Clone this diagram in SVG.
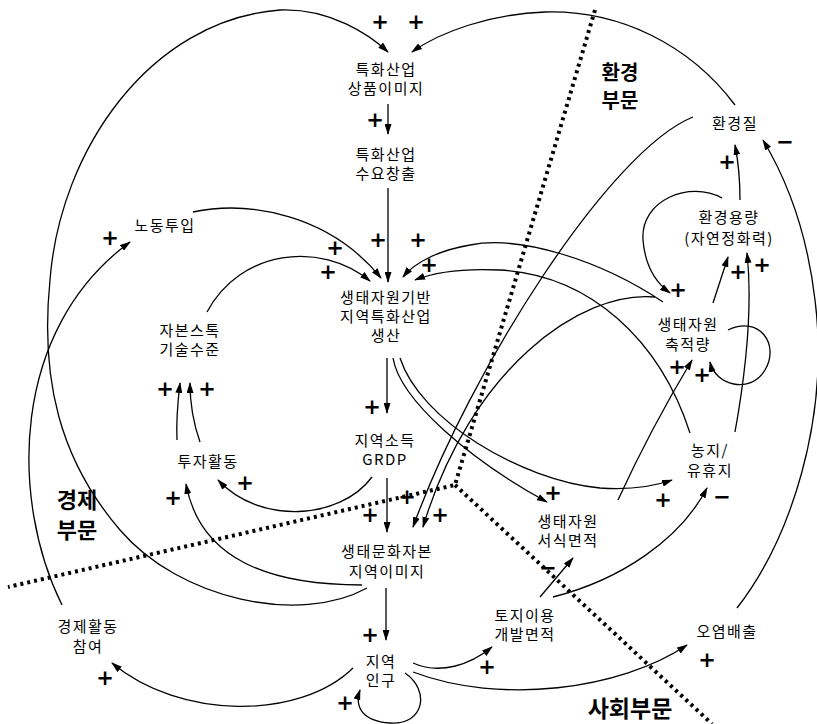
<svg xmlns="http://www.w3.org/2000/svg" width="817" height="724" viewBox="0 0 817 724">
<style>
.n text{font-family:"Noto Sans CJK KR","Noto Sans CJK SC",sans-serif;font-size:15px;text-anchor:middle;letter-spacing:1.5px;fill:#000}
.sec text{font-family:"Noto Sans CJK KR",sans-serif;font-weight:bold;text-anchor:middle;fill:#000}
.c path{fill:none;stroke:#000;stroke-width:1.3;marker-end:url(#ah)}
.s text{font-family:"DejaVu Sans",sans-serif;font-weight:bold;font-size:21px;text-anchor:middle;dominant-baseline:central;fill:#000}
.dot{fill:none;stroke:#000;stroke-width:4;stroke-dasharray:3 4}
</style>
<defs>
<marker id="ah" viewBox="0 0 11 7" refX="10" refY="3.5" markerWidth="11" markerHeight="7" markerUnits="userSpaceOnUse" orient="auto"><path d="M0,0 L11,3.5 L0,7 z" fill="#000"/></marker>
</defs>
<rect width="817" height="724" fill="#fff"/>

<g id="sectors">
<path class="dot" d="M595,10 L455,485 L8,587"/>
<path class="dot" d="M455,485 L712,724"/>
<g class="sec">
<text x="620" y="80" font-size="20">환경</text>
<text x="620" y="108" font-size="20">부문</text>
<text x="77" y="508" font-size="22">경제</text>
<text x="77" y="538" font-size="22">부문</text>
<text x="630" y="717" font-size="23">사회부문</text>
</g>
</g>

<g id="connectors" class="c">
<path d="M367,588 C300,625 180,600 120,530 C60,460 40,380 50,280 C60,150 150,20 280,10 C330,8 370,35 388,52"/>
<path d="M735,105 C690,45 620,10 545,12 C490,14 440,32 412,52"/>
<path d="M388,104 L388,134"/>
<path d="M388,188 L388,282"/>
<path d="M193,212 C250,200 330,215 381,278"/>
<path d="M207,312 C240,250 320,240 370,281"/>
<path d="M663,302 C600,260 520,235 470,245 C440,250 415,262 403,277"/>
<path d="M690,433 C660,340 590,275 500,270 C460,268 435,272 415,280"/>
<path d="M387,358 L387,413"/>
<path d="M393,358 C400,400 470,460 547,502"/>
<path d="M400,358 C420,420 520,480 600,488 C630,490 655,486 672,480"/>
<path d="M372,477 C340,520 260,525 218,480"/>
<path d="M387,478 L387,532"/>
<path d="M693,117 C610,150 470,370 413,527"/>
<path d="M655,297 C580,290 470,370 423,527"/>
<path d="M362,585 C270,585 200,560 186,484"/>
<path d="M177,440 C176,420 178,400 180,383"/>
<path d="M200,442 C194,425 190,405 190,383"/>
<path d="M62,605 C10,500 10,330 130,242"/>
<path d="M386,588 L386,640"/>
<path d="M405,673 C430,690 425,725 390,723 C360,721 355,705 360,690"/>
<path d="M353,668 C300,720 180,720 112,663"/>
<path d="M413,663 C440,675 470,665 492,647"/>
<path d="M413,672 C500,705 620,690 687,645"/>
<path d="M540,597 L573,558"/>
<path d="M553,597 C620,580 680,540 707,488"/>
<path d="M618,500 Q650,430 692,360"/>
<path d="M737,608 C790,540 830,420 815,300 C808,240 790,185 763,140"/>
<path d="M740,200 Q740,170 735,145"/>
<path d="M722,198 C690,180 640,200 643,240 C645,265 655,282 670,293"/>
<path d="M713,303 L728,257"/>
<path d="M735,432 C748,360 752,300 747,253"/>
<path d="M728,330 C760,315 780,345 765,370 C750,395 715,385 710,362"/>
</g>

<g id="signs" class="s">
<text x="380" y="22">+</text><text x="416" y="22">+</text>
<text x="375" y="120">+</text>
<text x="378" y="240">+</text><text x="418" y="240">+</text><text x="429" y="265">+</text>
<text x="335" y="248">+</text><text x="328" y="272">+</text>
<text x="110" y="238">+</text>
<text x="165" y="389">+</text><text x="207" y="389">+</text>
<text x="372" y="407">+</text>
<text x="173" y="498">+</text><text x="245" y="483">+</text>
<text x="370" y="515">+</text><text x="407" y="497">+</text><text x="440" y="515">+</text>
<text x="553" y="493">+</text><text x="663" y="500">+</text>
<text x="370" y="635">+</text><text x="345" y="703">+</text>
<text x="105" y="678">+</text><text x="487" y="667">+</text><text x="707" y="660">+</text>
<text x="727" y="162">+</text><text x="678" y="290">+</text>
<text x="738" y="272">+</text><text x="762" y="265">+</text>
<text x="677" y="367">+</text><text x="702" y="375">+</text>
<text x="785" y="142">−</text><text x="548" y="568">−</text><text x="722" y="497">−</text>
</g>

<g id="n1" class="n"><text x="386" y="75">특화산업</text><text x="386" y="94">상품이미지</text></g>
<g id="n2" class="n"><text x="386" y="160">특화산업</text><text x="386" y="179">수요창출</text></g>
<g id="n3" class="n"><text x="165" y="231">노동투입</text></g>
<g id="n4" class="n"><text x="386" y="303">생태자원기반</text><text x="386" y="322">지역특화산업</text><text x="386" y="341">생산</text></g>
<g id="n5" class="n"><text x="190" y="336">자본스톡</text><text x="190" y="355">기술수준</text></g>
<g id="n6" class="n"><text x="735" y="129">환경질</text></g>
<g id="n7" class="n"><text x="729" y="223">환경용량</text><text x="729" y="244">(자연정화력)</text></g>
<g id="n8" class="n"><text x="688" y="330">생태자원</text><text x="688" y="350">축적량</text></g>
<g id="n9" class="n"><text x="208" y="467">투자활동</text></g>
<g id="n10" class="n"><text x="385" y="446">지역소득</text><text x="385" y="465">GRDP</text></g>
<g id="n11" class="n"><text x="387" y="557">생태문화자본</text><text x="387" y="577">지역이미지</text></g>
<g id="n12" class="n"><text x="381" y="667">지역</text><text x="381" y="686">인구</text></g>
<g id="n13" class="n"><text x="88" y="632">경제활동</text><text x="88" y="652">참여</text></g>
<g id="n14" class="n"><text x="525" y="621">토지이용</text><text x="525" y="640">개발면적</text></g>
<g id="n15" class="n"><text x="568" y="527">생태자원</text><text x="568" y="546">서식면적</text></g>
<g id="n16" class="n"><text x="710" y="456">농지/</text><text x="710" y="476">유휴지</text></g>
<g id="n17" class="n"><text x="727" y="637">오염배출</text></g>
</svg>
